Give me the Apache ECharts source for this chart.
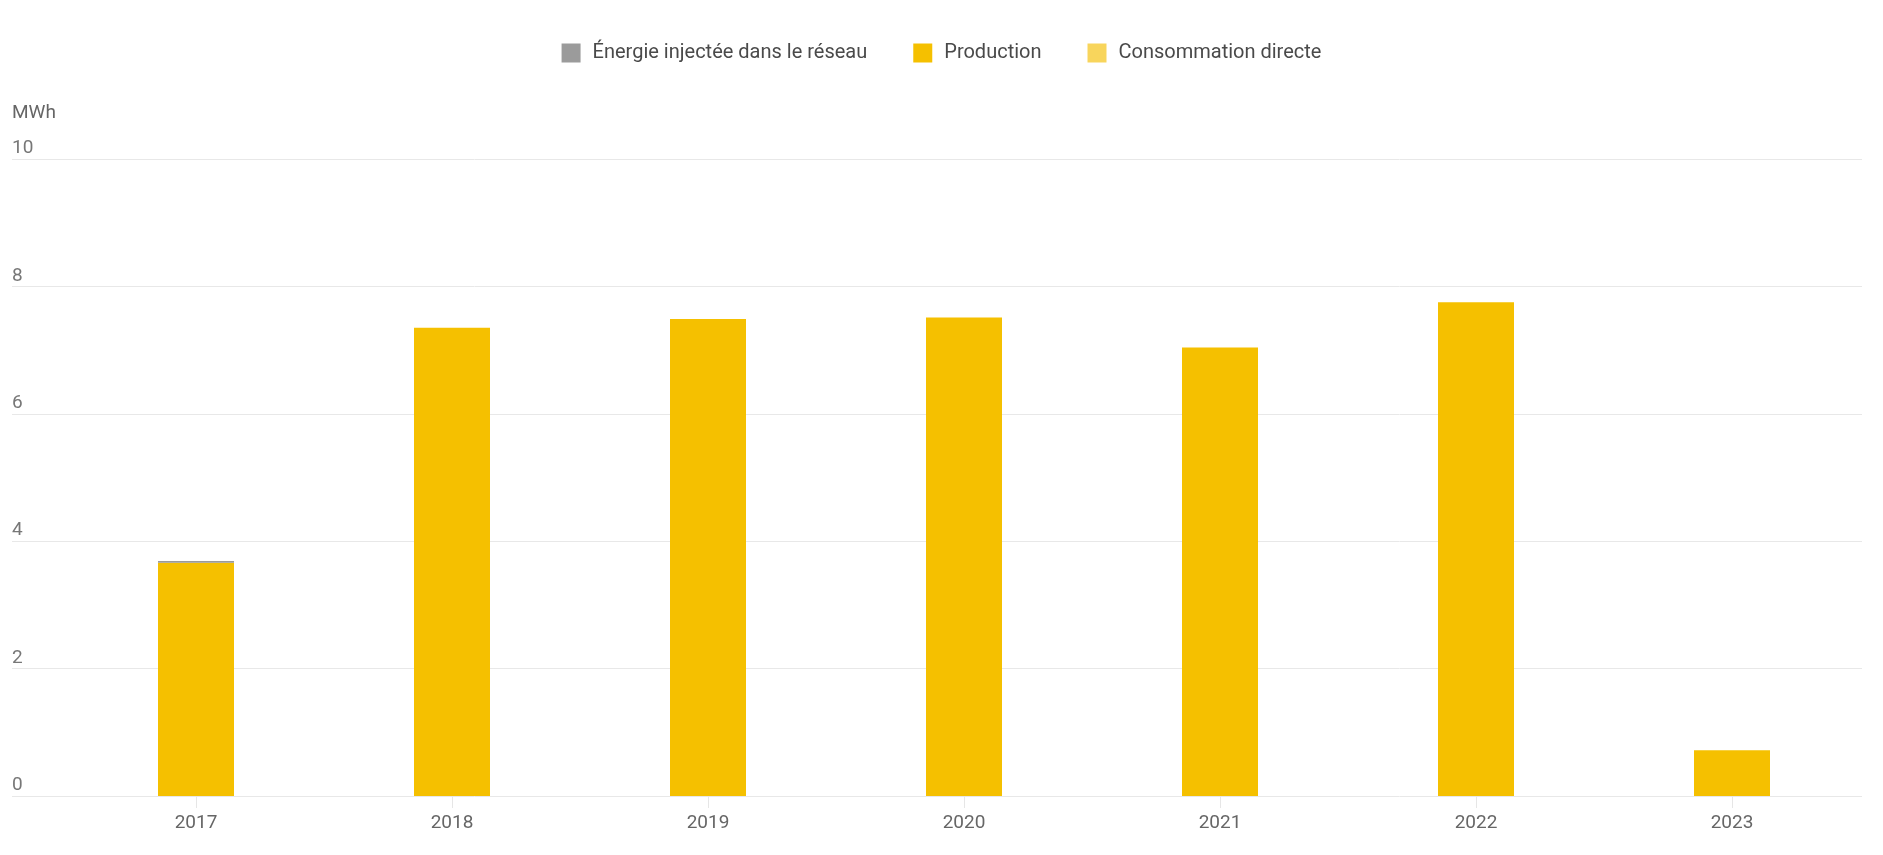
<!DOCTYPE html>
<html>
<head>
<meta charset="utf-8">
<script src="https://cdn.jsdelivr.net/npm/echarts@6/dist/echarts.min.js"></script>
<style>
html,body{margin:0;padding:0;background:#fff;}
#c{width:1883px;height:855px;}
</style>
</head>
<body>
<div id="c"></div>
<script>
const categories = ['2017','2018','2019','2020','2021','2022','2023'];
const production = [3.66, 7.35, 7.49, 7.51, 7.04, 7.75, 0.72];
const injectee = [0.03, 0, 0, 0, 0, 0, 0];
const consommation = [];
const yTicks = [0, 2, 4, 6, 8, 10];

const chart = echarts.init(document.getElementById('c'));
const font = 'Roboto, "Noto Sans", sans-serif';
chart.setOption({
  animation: false,
  textStyle: { fontFamily: font },
  legend: {
    top: 38,
    left: 'center',
    itemWidth: 19,
    itemHeight: 19,
    itemGap: 46,
    icon: 'rect',
    textStyle: { fontSize: 20, color: '#4a4a4a', fontFamily: font, padding: [0, 0, 0, 7] },
    data: ['Énergie injectée dans le réseau', 'Production', 'Consommation directe']
  },
  grid: [
    { left: 12, right: 21, top: 159, bottom: 59 },
    { left: 68, right: 23, top: 159, bottom: 59 }
  ],
  xAxis: [
    { gridIndex: 0, type: 'value', show: false, min: 0, max: 1 },
    {
      gridIndex: 1, type: 'category', data: categories,
      axisLine: { show: false },
      axisTick: { show: true, alignWithLabel: true, length: 12, lineStyle: { color: '#e6e6e6' } },
      axisLabel: { fontSize: 19, color: '#666', margin: 18, fontFamily: font }
    }
  ],
  yAxis: [
    {
      gridIndex: 0, type: 'value', min: yTicks[0], max: yTicks[yTicks.length - 1], interval: 2,
      name: 'MWh', nameLocation: 'end', nameGap: 36,
      nameTextStyle: { align: 'left', fontSize: 19, color: '#666' },
      axisLine: { show: false }, axisTick: { show: false },
      axisLabel: { inside: true, verticalAlign: 'bottom', margin: 0, padding: [0, 0, 1, 0], fontSize: 19, color: '#777' },
      splitLine: { lineStyle: { color: '#e8e8e8', width: 1 } }
    },
    {
      gridIndex: 1, type: 'value', min: yTicks[0], max: yTicks[yTicks.length - 1], interval: 2, show: false,
      splitLine: { show: false }
    }
  ],
  series: [
    {
      name: 'Production', type: 'bar', xAxisIndex: 1, yAxisIndex: 1, stack: 'a',
      barWidth: 76, data: production, itemStyle: { color: '#F5C000' }
    },
    {
      name: 'Énergie injectée dans le réseau', type: 'bar', xAxisIndex: 1, yAxisIndex: 1, stack: 'a',
      barWidth: 76, data: injectee, itemStyle: { color: '#9b9b9b' }
    },
    {
      name: 'Consommation directe', type: 'bar', xAxisIndex: 1, yAxisIndex: 1, stack: 'a',
      barWidth: 76, data: consommation, itemStyle: { color: '#F8D55C' }
    }
  ]
});
</script>
</body>
</html>
